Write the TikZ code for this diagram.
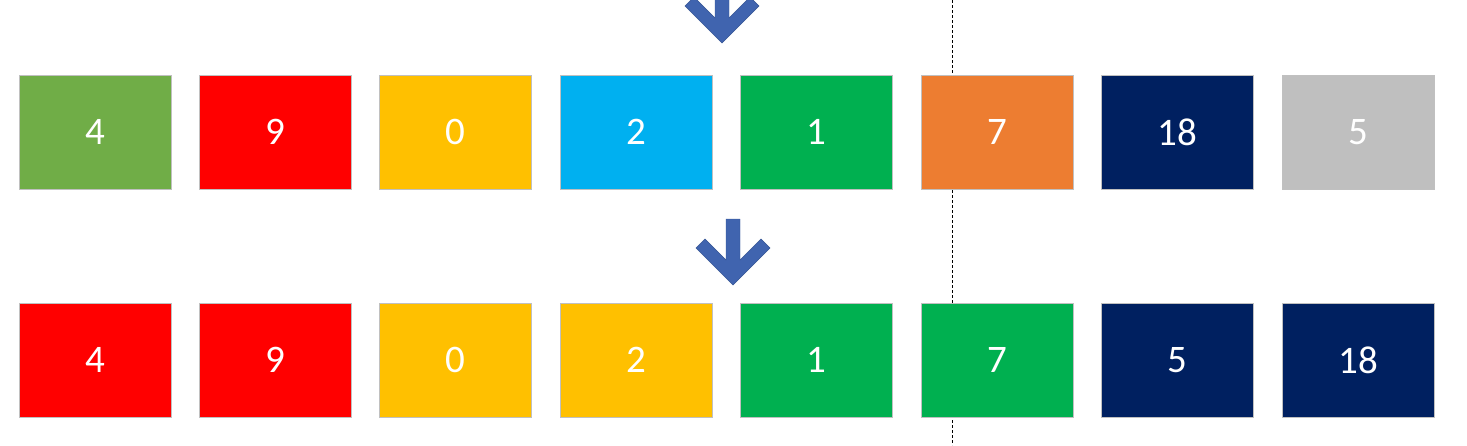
\documentclass[tikz,border=0pt]{standalone}
\usepackage{fontspec}
\setmainfont{Carlito}
\definecolor{cgreenA}{HTML}{70AD47}
\definecolor{cred}{HTML}{FF0000}
\definecolor{cyellow}{HTML}{FFC000}
\definecolor{cblue}{HTML}{00B0F0}
\definecolor{cgreen}{HTML}{00B050}
\definecolor{corange}{HTML}{ED7D31}
\definecolor{cnavy}{HTML}{002060}
\definecolor{cgray}{HTML}{BFBFBF}
\definecolor{carrow}{RGB}{64,100,175}
\definecolor{cborder}{HTML}{C0C0C0}
\tikzset{
  cell/.style={draw=cborder, line width=1pt, minimum width=152pt, minimum height=114pt,
    inner sep=0pt, text=white, font=\fontsize{39}{42}\selectfont},
  arrowshape/.style={fill=carrow, draw=carrow!85!black, line width=0.4pt},
  divider/.style={black, line width=0.9pt, dash pattern=on 3pt off 2pt}
}
\newcommand{\downarrowshape}[2]{% center x, tip y
  \fill[arrowshape] (#1-7,#2-66) -- (#1+7,#2-66) -- (#1+7,#2-25) -- (#1+28,#2-46)
    -- (#1+37,#2-37) -- (#1,#2) -- (#1-37,#2-37) -- (#1-28,#2-46) -- (#1-7,#2-25) -- cycle;}
\begin{document}
\begin{tikzpicture}[x=1pt,y=-1pt]
\useasboundingbox (0,0) rectangle (1467,445);
\begin{scope}
\clip (0,0) rectangle (1467,445);
\coordinate (dtop) at (952,0);
\coordinate (dbot) at (952,445);
\draw[divider] (dtop) -- (dbot);
\downarrowshape{722}{43}
\downarrowshape{733}{285}
\end{scope}
\foreach \i/\c/\t in {0/cgreenA/4,1/cred/9,2/cyellow/0,3/cblue/2,4/cgreen/1,5/corange/7,6/cnavy/18,7/cgray/5}{
  \node[cell, fill=\c] (b\i) at (95+\i*180.43,132) {\t};
}
\foreach \i/\c/\t in {0/cred/4,1/cred/9,2/cyellow/0,3/cyellow/2,4/cgreen/1,5/cgreen/7,6/cnavy/5,7/cnavy/18}{
  \node[cell, fill=\c] (c\i) at (95+\i*180.43,360) {\t};
}
\end{tikzpicture}
\end{document}
